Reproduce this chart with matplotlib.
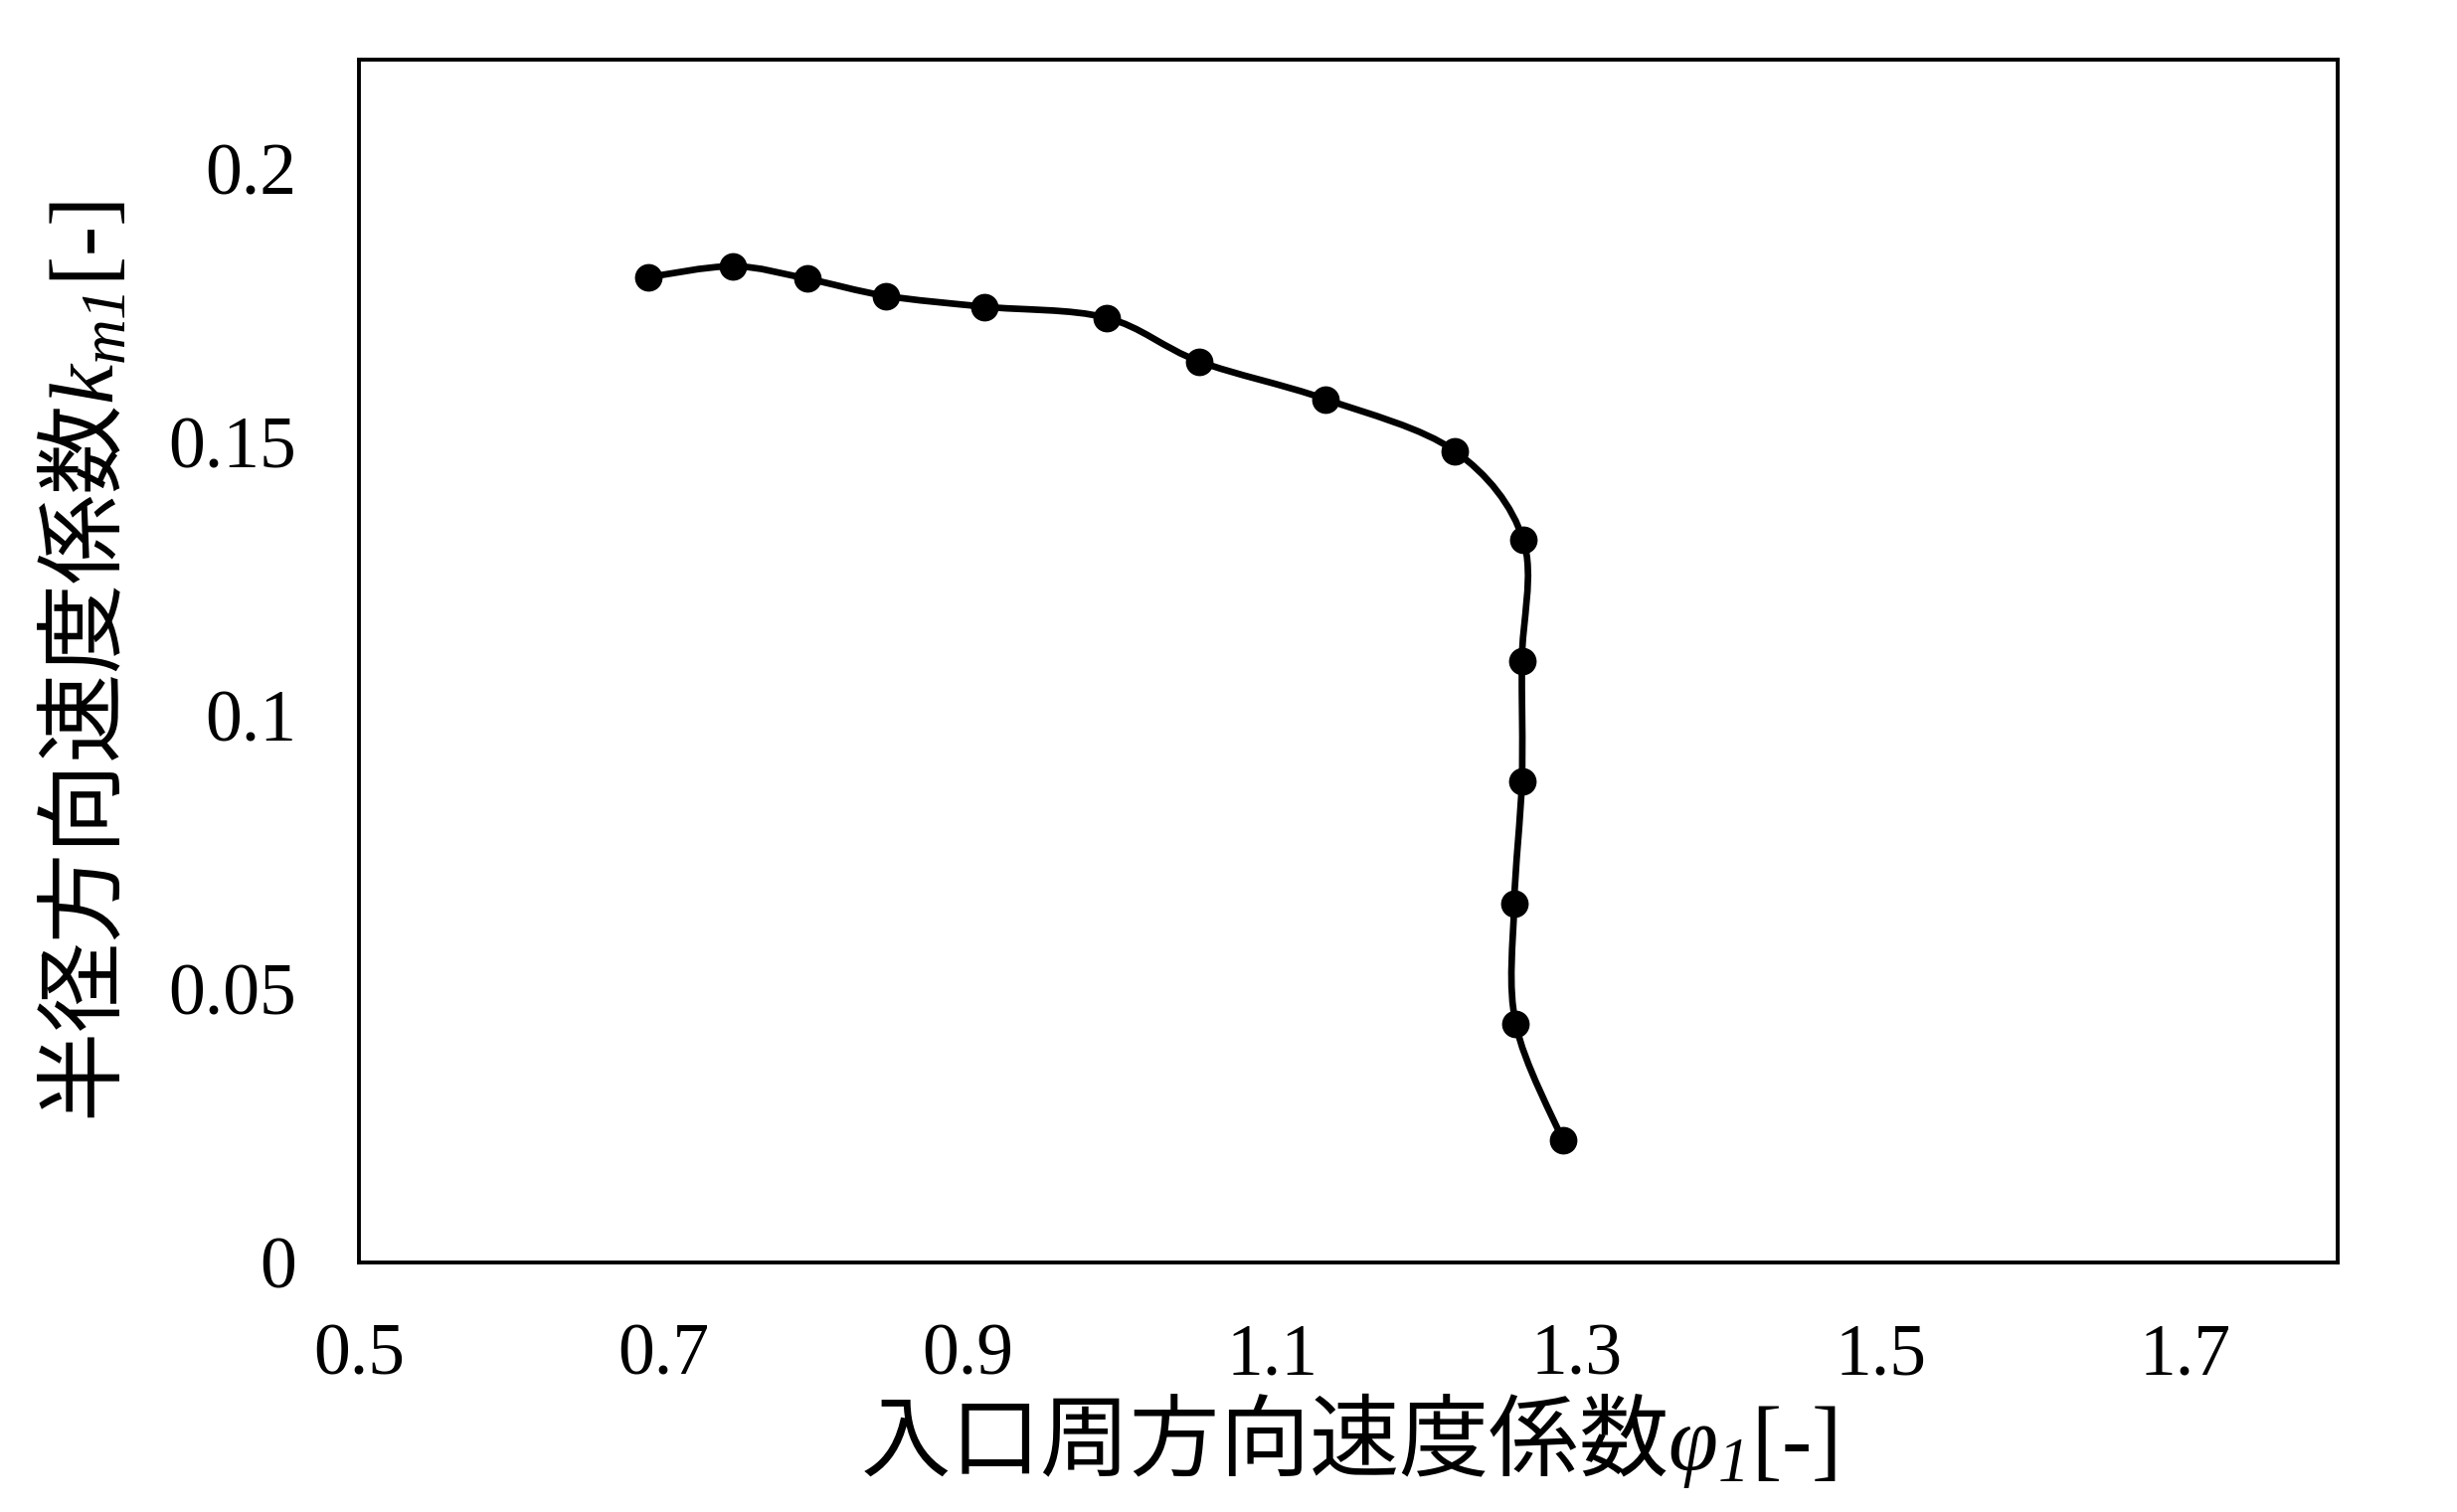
import numpy as np
import matplotlib
matplotlib.use("Agg")
import matplotlib.pyplot as plt
from matplotlib.path import Path
from matplotlib.patches import PathPatch

plt.rcParams['font.family'] = ['Liberation Serif', 'Noto Sans CJK JP', 'DejaVu Sans']
plt.rcParams['mathtext.fontset'] = 'custom'
plt.rcParams['mathtext.rm'] = 'Liberation Serif'
plt.rcParams['mathtext.it'] = 'Liberation Serif:italic'
# italic digits in subscripts (the 'it' slot forces digits upright)
plt.rcParams['mathtext.bf'] = 'Liberation Serif:italic'
# CJK glyphs inside the math string
plt.rcParams['mathtext.sf'] = 'Noto Sans CJK JP'

# 入口周方向速度係数 phi1 vs 半径方向速度係数 km1
phi1 = [0.690, 0.746, 0.795, 0.846, 0.911, 0.991, 1.052, 1.135, 1.220,
        1.265, 1.264, 1.264, 1.259, 1.260, 1.291]
km1 = [0.1802, 0.1822, 0.1799, 0.1768, 0.1748, 0.1728, 0.1648, 0.1579, 0.1484,
       0.1321, 0.1100, 0.0880, 0.0656, 0.0436, 0.0223]

xticks = [0.5, 0.7, 0.9, 1.1, 1.3, 1.5, 1.7]
yticks = [0, 0.05, 0.1, 0.15, 0.2]
ytick_labels = ['0', '0.05', '0.1', '0.15', '0.2']


def smooth_path(x, y):
    # Excel-like smoothed line: cubic bezier segments through every point
    p = np.column_stack([x, y])
    n = len(p)
    verts = [p[0]]
    codes = [Path.MOVETO]
    for i in range(n - 1):
        prev = p[i - 1] if i > 0 else p[i]
        nxt = p[i + 2] if i + 2 < n else p[i + 1]
        c1 = p[i] + (p[i + 1] - prev) / 6.0
        c2 = p[i + 1] - (nxt - p[i]) / 6.0
        verts += [c1, c2, p[i + 1]]
        codes += [Path.CURVE4] * 3
    return Path(verts, codes)


fig = plt.figure(figsize=(24.71, 15.21), dpi=100)
ax = fig.add_axes([0.146, 0.165, 0.8055, 0.7956])

ax.add_patch(PathPatch(smooth_path(phi1, km1), facecolor='none', edgecolor='black', linewidth=4.8))
ax.plot(phi1, km1, 'o', color='black', markersize=19, zorder=3)

ax.set_xlim(0.5, 1.8)
ax.set_ylim(0, 0.22)
ax.set_xticks(xticks)
ax.set_xticklabels([str(t) for t in xticks])
ax.set_yticks(yticks)
ax.set_yticklabels(ytick_labels)
ax.tick_params(length=0, labelsize=53)
ax.tick_params(axis='x', pad=44)
ax.tick_params(axis='y', pad=45)
for s in ax.spines.values():
    s.set_linewidth(2.8)

ax.set_xlabel(r'$\mathsf{入口周方向速度係数}\varphi_{\mathbf{1}}$[-]', fontsize=65, labelpad=0)
ax.set_ylabel(r'$\mathsf{半径方向速度係数}k_{m\mathbf{1}}$[-]', fontsize=65, labelpad=26)

fig.savefig('out.png', dpi=100)
